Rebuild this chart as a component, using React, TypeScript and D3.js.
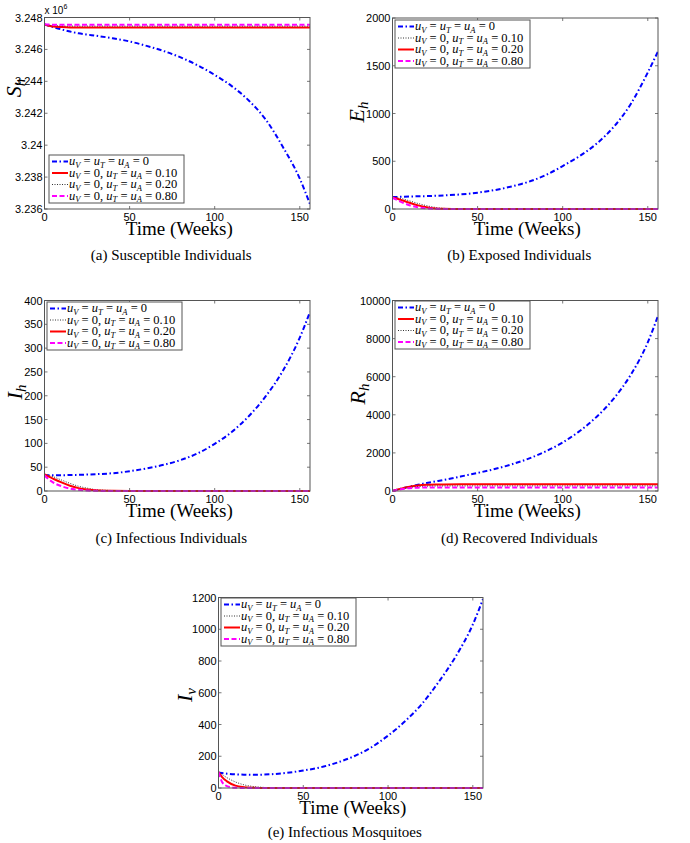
import React from 'react';
import * as d3 from 'd3';

// ---------- data ----------
const TIME = [0, 2, 5, 10, 15, 20, 25, 30, 40, 50, 60, 70, 80, 90, 100, 110, 120, 130, 140, 150, 156];
const X_TICKS = [0, 50, 100, 150];

// (a) Susceptible individuals (x 10^6)
const SH_NONE = [3.24757, 3.2475, 3.2474, 3.24725, 3.24712, 3.24701, 3.24693, 3.24686, 3.2467, 3.2465, 3.24622, 3.2459, 3.2455, 3.245, 3.2444, 3.2437, 3.2428, 3.2416, 3.2399, 3.2379, 3.2363];
const SH_010 = [3.24757, 3.2475, 3.24744, 3.2474, 3.24738, 3.24738, 3.24738, 3.24738, 3.24738, 3.24738, 3.24738, 3.24738, 3.24738, 3.24738, 3.24738, 3.24738, 3.24738, 3.24738, 3.24738, 3.24738, 3.24738];
const SH_020 = [3.24757, 3.24753, 3.24749, 3.24747, 3.24746, 3.24746, 3.24746, 3.24746, 3.24746, 3.24746, 3.24746, 3.24746, 3.24746, 3.24746, 3.24746, 3.24746, 3.24746, 3.24746, 3.24746, 3.24746, 3.24746];
const SH_080 = [3.24757, 3.24756, 3.24755, 3.24755, 3.24755, 3.24755, 3.24755, 3.24755, 3.24755, 3.24755, 3.24755, 3.24755, 3.24755, 3.24755, 3.24755, 3.24755, 3.24755, 3.24755, 3.24755, 3.24755, 3.24755];
const SH_TICKS = [3.236, 3.238, 3.24, 3.242, 3.244, 3.246, 3.248];

// (b) Exposed individuals
const EH_NONE = [125, 126, 128, 131, 133, 135, 138, 142, 153, 171, 198, 236, 285, 355, 450, 555, 685, 860, 1100, 1430, 1650];
const EH_010 = [120, 118, 110, 85, 58, 35, 17, 7, 1, 0, 0, 0, 0, 0, 0, 0, 0, 0, 0, 0, 0];
const EH_020 = [120, 112, 95, 65, 38, 18, 6, 2, 0, 0, 0, 0, 0, 0, 0, 0, 0, 0, 0, 0, 0];
const EH_080 = [120, 100, 75, 40, 18, 6, 2, 0.5, 0, 0, 0, 0, 0, 0, 0, 0, 0, 0, 0, 0, 0];
const EH_TICKS = [0, 500, 1000, 1500, 2000];

// (c) Infectious individuals
const IH_NONE = [33, 33, 33, 33.2, 33.5, 34, 34.6, 35.3, 37.3, 41.5, 47.5, 55, 65, 79, 99, 124, 157, 199, 252, 322, 376];
const IH_010 = [35, 33, 30, 23, 16, 10, 6, 3, 1, 0.2, 0, 0, 0, 0, 0, 0, 0, 0, 0, 0, 0];
const IH_020 = [35, 31, 26, 18, 11, 6, 3, 1.5, 0.3, 0, 0, 0, 0, 0, 0, 0, 0, 0, 0, 0, 0];
const IH_080 = [33, 26, 18, 10, 5, 2.5, 1, 0.4, 0, 0, 0, 0, 0, 0, 0, 0, 0, 0, 0, 0, 0];
const IH_TICKS = [0, 50, 100, 150, 200, 250, 300, 350, 400];

// (d) Recovered individuals
const RH_NONE = [0, 50, 120, 230, 330, 420, 500, 580, 760, 950, 1150, 1400, 1700, 2080, 2550, 3150, 3900, 4850, 6100, 7800, 9200];
const RH_010 = [0, 50, 120, 220, 290, 325, 340, 345, 348, 348, 348, 348, 348, 348, 348, 348, 348, 348, 348, 348, 348];
const RH_020 = [0, 45, 110, 190, 235, 255, 262, 265, 266, 266, 266, 266, 266, 266, 266, 266, 266, 266, 266, 266, 266];
const RH_080 = [0, 40, 95, 150, 175, 185, 188, 190, 190, 190, 190, 190, 190, 190, 190, 190, 190, 190, 190, 190, 190];
const RH_TICKS = [0, 2000, 4000, 6000, 8000, 10000];

// (e) Infectious mosquitoes
const IV_NONE = [97, 94, 90, 86, 84, 83, 84, 86, 95, 110, 130, 160, 200, 255, 330, 420, 530, 670, 830, 1030, 1190];
const IV_010 = [100, 85, 65, 38, 20, 10, 5, 2, 0.5, 0, 0, 0, 0, 0, 0, 0, 0, 0, 0, 0, 0];
const IV_020 = [100, 70, 42, 15, 5, 1.5, 0.5, 0, 0, 0, 0, 0, 0, 0, 0, 0, 0, 0, 0, 0, 0];
const IV_080 = [100, 40, 12, 1.5, 0.2, 0, 0, 0, 0, 0, 0, 0, 0, 0, 0, 0, 0, 0, 0, 0, 0];
const IV_TICKS = [0, 200, 400, 600, 800, 1000, 1200];

const LEVELS = ['0.10', '0.20', '0.80'];

// ---------- styles ----------
const STYLE: Record<string, { color: string; dash: string; width: number }> = {
  none: { color: '#0000ff', dash: '5,2.5,1.5,2.5', width: 2 },
  red: { color: '#ff0000', dash: '', width: 2 },
  dot: { color: '#333333', dash: '1,1.5', width: 1 },
  mag: { color: '#ff00ff', dash: '5,2.5', width: 2 },
};

type SeriesDef = { values: number[]; style: string; level: string | null };

type PanelDef = {
  frame: [number, number, number, number]; // left, top, right, bottom
  yDomain: [number, number];
  yTicks: number[];
  yTickFmt: (v: number) => string;
  series: SeriesDef[];
  legend: [number, number];
  yLabelMain: string;
  yLabelSub: string;
  yLabelPos: [number, number];
  caption: string;
  captionY: number;
  multiplier?: boolean;
};

const fmtPlain = (v: number) => String(v);

const PANELS: PanelDef[] = [
  {
    frame: [44.5, 17.5, 310, 209],
    yDomain: [3.236, 3.248],
    yTicks: SH_TICKS,
    yTickFmt: (v) => String(+v.toFixed(3)),
    series: [
      { values: SH_NONE, style: 'none', level: null },
      { values: SH_010, style: 'red', level: LEVELS[0] },
      { values: SH_020, style: 'dot', level: LEVELS[1] },
      { values: SH_080, style: 'mag', level: LEVELS[2] },
    ],
    legend: [49, 155],
    yLabelMain: 'S',
    yLabelSub: 'h',
    yLabelPos: [21, 88],
    caption: '(a) Susceptible Individuals',
    captionY: 260,
    multiplier: true,
  },
  {
    frame: [392.5, 18, 658, 209],
    yDomain: [0, 2000],
    yTicks: EH_TICKS,
    yTickFmt: fmtPlain,
    series: [
      { values: EH_NONE, style: 'none', level: null },
      { values: EH_010, style: 'dot', level: LEVELS[0] },
      { values: EH_020, style: 'red', level: LEVELS[1] },
      { values: EH_080, style: 'mag', level: LEVELS[2] },
    ],
    legend: [395, 20],
    yLabelMain: 'E',
    yLabelSub: 'h',
    yLabelPos: [364, 112],
    caption: '(b) Exposed Individuals',
    captionY: 260,
  },
  {
    frame: [44.5, 300.5, 310, 491],
    yDomain: [0, 400],
    yTicks: IH_TICKS,
    yTickFmt: fmtPlain,
    series: [
      { values: IH_NONE, style: 'none', level: null },
      { values: IH_010, style: 'dot', level: LEVELS[0] },
      { values: IH_020, style: 'red', level: LEVELS[1] },
      { values: IH_080, style: 'mag', level: LEVELS[2] },
    ],
    legend: [47, 302],
    yLabelMain: 'I',
    yLabelSub: 'h',
    yLabelPos: [22, 392],
    caption: '(c) Infectious Individuals',
    captionY: 543,
  },
  {
    frame: [392.5, 300.5, 658, 491],
    yDomain: [0, 10000],
    yTicks: RH_TICKS,
    yTickFmt: fmtPlain,
    series: [
      { values: RH_NONE, style: 'none', level: null },
      { values: RH_010, style: 'red', level: LEVELS[0] },
      { values: RH_020, style: 'dot', level: LEVELS[1] },
      { values: RH_080, style: 'mag', level: LEVELS[2] },
    ],
    legend: [395, 301],
    yLabelMain: 'R',
    yLabelSub: 'h',
    yLabelPos: [365, 394],
    caption: '(d) Recovered Individuals',
    captionY: 543,
  },
  {
    frame: [218.5, 597.5, 483, 788],
    yDomain: [0, 1200],
    yTicks: IV_TICKS,
    yTickFmt: fmtPlain,
    series: [
      { values: IV_NONE, style: 'none', level: null },
      { values: IV_010, style: 'dot', level: LEVELS[0] },
      { values: IV_020, style: 'red', level: LEVELS[1] },
      { values: IV_080, style: 'mag', level: LEVELS[2] },
    ],
    legend: [221, 598],
    yLabelMain: 'I',
    yLabelSub: 'v',
    yLabelPos: [192, 695],
    caption: '(e) Infectious Mosquitoes',
    captionY: 837,
  },
];

const SANS = 'Liberation Sans, Arial, Helvetica, sans-serif';
const SERIF = 'Liberation Serif, Times New Roman, serif';
const FRAME = '#555555';

function LegendText({ x, y, level }: { x: number; y: number; level: string | null }) {
  const fs = 12.5;
  const sub = 8.5;
  const d = 2.5;
  const U = (s: string) => [
    <tspan key={s + 'u'} fontStyle="italic">u</tspan>,
    <tspan key={s + 's'} fontStyle="italic" fontSize={sub} dy={d}>{s}</tspan>,
  ];
  return (
    <text x={x} y={y} fontFamily={SERIF} fontSize={fs} fill="#000">
      {U('V')}
      {level === null ? (
        <>
          <tspan dy={-d}>{' = '}</tspan>
          {U('T')}
          <tspan dy={-d}>{' = '}</tspan>
          {U('A')}
          <tspan dy={-d}>{' = 0'}</tspan>
        </>
      ) : (
        <>
          <tspan dy={-d}>{' = 0, '}</tspan>
          {U('T')}
          <tspan dy={-d}>{' = '}</tspan>
          {U('A')}
          <tspan dy={-d}>{' = ' + level}</tspan>
        </>
      )}
    </text>
  );
}

function Panel({ p }: { p: PanelDef }) {
  const [l, t, r, b] = p.frame;
  const x = d3.scaleLinear().domain([0, 156]).range([l, r]);
  const y = d3.scaleLinear().domain(p.yDomain).range([b, t]);
  const clipId = 'clip' + Math.round(l) + '_' + Math.round(t);
  const line = (vals: number[]) =>
    d3
      .line<number>()
      .x((_, i) => x(TIME[i]))
      .y((v) => y(v))
      .curve(d3.curveMonotoneX)(vals) || '';
  const tl = 3;
  const [lx, ly] = p.legend;
  const rowH = 11.5;
  const cx = (l + r) / 2;
  return (
    <g>
      <defs>
        <clipPath id={clipId}>
          <rect x={l} y={t - 2} width={r - l} height={b - t + 4} />
        </clipPath>
      </defs>
      <rect x={l} y={t} width={r - l} height={b - t} fill="#fff" />
      {/* ticks */}
      {X_TICKS.map((v) => (
        <g key={'xt' + v}>
          <line x1={x(v)} x2={x(v)} y1={b} y2={b - tl} stroke={FRAME} strokeWidth={0.8} />
          <line x1={x(v)} x2={x(v)} y1={t} y2={t + tl} stroke={FRAME} strokeWidth={0.8} />
          <text x={x(v)} y={b + 12} textAnchor="middle" fontFamily={SANS} fontSize={11} fill="#000">
            {v}
          </text>
        </g>
      ))}
      {p.yTicks.map((v) => (
        <g key={'yt' + v}>
          <line x1={l} x2={l + tl} y1={y(v)} y2={y(v)} stroke={FRAME} strokeWidth={0.8} />
          <line x1={r} x2={r - tl} y1={y(v)} y2={y(v)} stroke={FRAME} strokeWidth={0.8} />
          <text x={l - 2} y={y(v) + 4} textAnchor="end" fontFamily={SANS} fontSize={11} fill="#000">
            {p.yTickFmt(v)}
          </text>
        </g>
      ))}
      {/* lines */}
      <g clipPath={`url(#${clipId})`}>
        {p.series.map((s, i) => {
          const st = STYLE[s.style];
          return (
            <path
              key={i}
              d={line(s.values)}
              fill="none"
              stroke={st.color}
              strokeWidth={st.width}
              strokeDasharray={st.dash || undefined}
            />
          );
        })}
      </g>
      <rect x={l} y={t} width={r - l} height={b - t} fill="none" stroke={FRAME} strokeWidth={1} />
      {/* legend */}
      <rect x={lx} y={ly} width={135} height={48} fill="#fff" stroke={FRAME} strokeWidth={1} />
      {p.series.map((s, i) => {
        const st = STYLE[s.style];
        const yy = ly + 6.5 + i * rowH;
        return (
          <g key={'lg' + i}>
            <line
              x1={lx + 3}
              x2={lx + 19}
              y1={yy}
              y2={yy}
              stroke={st.color}
              strokeWidth={st.width}
              strokeDasharray={st.dash || undefined}
            />
            <LegendText x={lx + 20} y={yy + 3.5} level={s.level} />
          </g>
        );
      })}
      {/* y label */}
      <text
        transform={`translate(${p.yLabelPos[0]},${p.yLabelPos[1]}) rotate(-90)`}
        textAnchor="middle"
        fontFamily={SERIF}
        fontSize={22}
        fill="#000"
      >
        <tspan fontStyle="italic">{p.yLabelMain}</tspan>
        <tspan fontStyle="italic" fontSize={15} dy={4}>
          {p.yLabelSub}
        </tspan>
      </text>
      {/* x label */}
      <text x={cx + 2} y={b + 26} textAnchor="middle" fontFamily={SERIF} fontSize={19} fill="#000">
        Time (Weeks)
      </text>
      {/* caption */}
      <text x={cx - 6} y={p.captionY} textAnchor="middle" fontFamily={SERIF} fontSize={15} fill="#000">
        {p.caption}
      </text>
      {p.multiplier && (
        <text x={l} y={t - 4} fontFamily={SANS} fontSize={10} fill="#000">
          x 10
          <tspan fontSize={7} dy={-5}>
            6
          </tspan>
        </text>
      )}
    </g>
  );
}

export default function App() {
  return (
    <svg width={690} height={843} style={{ display: 'block', position: 'absolute', left: 0, top: 0 }}>
      <rect width={690} height={843} fill="#fff" />
      {PANELS.map((p, i) => (
        <Panel key={i} p={p} />
      ))}
    </svg>
  );
}
